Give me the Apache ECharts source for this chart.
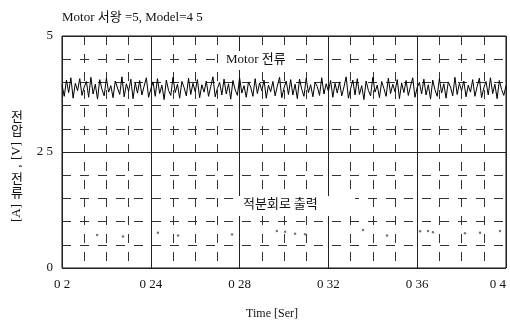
<!DOCTYPE html>
<html>
<head>
<meta charset="utf-8">
<script src="https://cdn.jsdelivr.net/npm/echarts@6/dist/echarts.min.js"></script>
<style>
  html, body { margin: 0; padding: 0; background: #fff; }
  #chart { width: 510px; height: 326px; }
</style>
</head>
<body>
<div id="chart"></div>
<script>
// 시간축 (Time [Sec])
var timeStart = 0.2;
var timeStep = 0.001;
var xTicks = [0.2, 0.24, 0.28, 0.32, 0.36, 0.4];
var yTicks = [0, 2.5, 5];

// Motor 전류
var motorCurrent = [
  3.95,3.70,4.05,3.78,4.10,3.66,3.98,3.82,4.08,3.72,
  3.90,4.02,3.68,4.11,3.75,3.96,3.64,4.06,3.85,3.71,
  4.09,3.79,3.93,3.67,4.03,3.88,3.74,4.12,3.69,3.97,
  3.81,4.07,3.65,3.99,3.77,4.04,3.73,3.92,4.10,3.68,
  3.86,4.01,3.70,4.08,3.76,3.94,3.63,4.05,3.83,3.72,
  4.11,3.78,3.96,3.66,4.02,3.89,3.71,4.09,3.74,3.98,
  3.80,4.06,3.67,3.95,3.79,4.03,3.70,3.91,4.12,3.69,
  3.87,4.00,3.73,4.07,3.75,3.97,3.64,4.04,3.84,3.72,
  4.10,3.77,3.93,3.68,4.01,3.90,3.70,4.08,3.76,3.99,
  3.82,4.05,3.66,3.94,3.80,4.02,3.71,3.92,4.11,3.67,
  3.88,4.03,3.74,4.06,3.73,3.96,3.65,4.07,3.85,3.70,
  4.09,3.78,3.95,3.69,4.00,3.91,3.72,4.10,3.75,3.97,
  3.81,4.04,3.68,3.98,3.77,4.01,3.71,3.90,4.12,3.66,
  3.86,4.05,3.73,4.08,3.74,3.93,3.63,4.03,3.83,3.71,
  4.11,3.79,3.94,3.67,4.02,3.87,3.70,4.09,3.76,3.96,
  3.80,4.06,3.65,3.99,3.78,4.04,3.72,3.92,4.10,3.68,
  3.89,4.00,3.75,4.07,3.73,3.95,3.64,4.05,3.84,3.70,
  4.08,3.77,3.97,3.66,4.01,3.90,3.71,4.11,3.74,3.98,
  3.82,4.03,3.69,3.94,3.79,4.06,3.70,3.91,4.09,3.67,
  3.88,4.02,3.73,4.10,3.76,3.96,3.65,4.04,3.85,3.72,
  3.93
];

// 적분회로 출력 (흐릿하게 남은 점들)
var integTime = [0.2158,0.2275,0.2432,0.2523,0.2766,0.2968,0.3005,0.3050,0.3095,
                 0.3356,0.3464,0.3613,0.3649,0.3671,0.3815,0.3883,0.3973];
var integValue = [0.71,0.68,0.76,0.70,0.72,0.80,0.78,0.74,0.73,
                  0.82,0.70,0.79,0.80,0.77,0.75,0.76,0.80];

var motorData = motorCurrent.map(function (v, i) {
  return [+(timeStart + i * timeStep).toFixed(4), v];
});
var integData = integTime.map(function (t, i) { return [t, integValue[i]]; });

var serif = '"Liberation Serif", "Noto Sans CJK KR", serif';
var hangul = '"Noto Sans CJK KR", sans-serif';

var chart = echarts.init(document.getElementById('chart'));

var option = {
  backgroundColor: '#fff',
  animation: false,
  title: {
    text: 'Motor 서왕 =5, Model=4 5',
    left: 57,
    top: 6,
    textStyle: { fontFamily: serif, fontSize: 13, fontWeight: 'normal', color: '#111' }
  },
  grid: {
    left: 62, right: 4, top: 36, bottom: 58,
    outerBoundsMode: 'none',
    containLabel: false,
    show: true, borderColor: '#111', borderWidth: 1, backgroundColor: 'transparent'
  },
  xAxis: {
    type: 'value',
    min: xTicks[0], max: xTicks[xTicks.length - 1], interval: 0.04,
    name: 'Time [Ser]',
    nameLocation: 'middle',
    nameGap: 40,
    nameTextStyle: { fontFamily: serif, fontSize: 12, color: '#111', padding: [0, 24, 0, 0] },
    axisLine: { show: false },
    axisTick: { show: false },
    axisLabel: {
      margin: 10,
      alignMaxLabel: 'right',
      fontFamily: serif, fontSize: 13, color: '#111',
      formatter: function (v) { return String(+v.toFixed(2)).replace('.', ' '); }
    },
    splitLine: { show: true, lineStyle: { color: '#222', width: 1, type: 'solid' } },
    minorTick: { show: false, splitNumber: 4 },
    minorSplitLine: { show: true, lineStyle: { color: '#333', width: 1, type: [9, 9] } }
  },
  yAxis: {
    type: 'value',
    min: yTicks[0], max: yTicks[yTicks.length - 1], interval: 2.5,
    axisLine: { show: false },
    axisTick: { show: false },
    axisLabel: {
      margin: 9,
      fontFamily: serif, fontSize: 13, color: '#111',
      formatter: function (v) { return String(v).replace('.', ' '); }
    },
    splitLine: { show: true, lineStyle: { color: '#222', width: 1, type: 'solid' } },
    minorTick: { show: false, splitNumber: 5 },
    minorSplitLine: { show: true, lineStyle: { color: '#333', width: 1, type: [9, 9] } }
  },
  graphic: [
    // 세로 축 이름: 전압[V], 전류[A]
    { type: 'text', left: 11, top: 110, style: { text: '전', font: '13px ' + hangul, fill: '#111' } },
    { type: 'text', left: 11, top: 124, style: { text: '압', font: '13px ' + hangul, fill: '#111' } },
    { type: 'text', x: 17, y: 151, rotation: Math.PI / 2,
      style: { text: '[V]', font: '13px ' + serif, fill: '#111', align: 'center', verticalAlign: 'middle' } },
    { type: 'text', x: 17, y: 166, rotation: Math.PI / 2,
      style: { text: ',', font: '13px ' + serif, fill: '#111', align: 'center', verticalAlign: 'middle' } },
    { type: 'text', left: 11, top: 172, style: { text: '전', font: '13px ' + hangul, fill: '#111' } },
    { type: 'text', left: 11, top: 186, style: { text: '류', font: '13px ' + hangul, fill: '#111' } },
    { type: 'text', x: 17, y: 213, rotation: Math.PI / 2,
      style: { text: '[A]', font: '13px ' + serif, fill: '#111', align: 'center', verticalAlign: 'middle' } },
    // 곡선 설명
    { type: 'rect', left: 222, top: 51, z: 100, shape: { width: 66, height: 19 }, style: { fill: '#fff' } },
    { type: 'text', left: 226, top: 53, z: 101,
      style: { text: 'Motor 전류', font: '13px ' + serif, fill: '#111' } },
    { type: 'rect', left: 239, top: 196, z: 100, shape: { width: 116, height: 20 }, style: { fill: '#fff' } },
    { type: 'text', left: 243, top: 197, z: 101,
      style: { text: '적분회로 출력', font: '13px ' + hangul, fill: '#111' } }
  ],
  series: [
    {
      name: 'Motor 전류',
      type: 'line',
      data: motorData,
      showSymbol: false,
      lineStyle: { color: '#000', width: 1 },
      z: 3
    },
    {
      name: '적분회로 출력',
      type: 'scatter',
      data: integData,
      symbol: 'circle',
      symbolSize: 2.5,
      itemStyle: { color: '#555' },
      z: 3
    }
  ]
};

chart.setOption(option);
</script>
</body>
</html>
